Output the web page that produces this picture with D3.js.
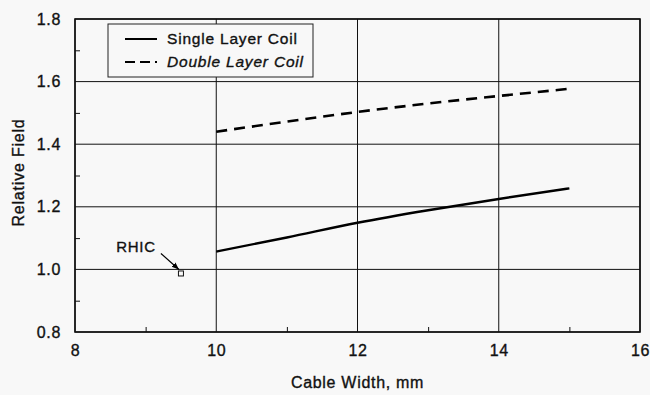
<!DOCTYPE html>
<html>
<head>
<meta charset="utf-8">
<script src="https://cdn.jsdelivr.net/npm/d3@7"></script>
<style>
  body { margin: 0; background: #f8f8f8; }
  text { font-family: "Liberation Sans", Arial, sans-serif; fill: #111; stroke: #111; stroke-width: 0.35px; }
</style>
</head>
<body>
<div id="chart"></div>
<script>
// data
var widths = [10, 11, 12, 13, 14, 15];
var singleLayer = [1.057, 1.102, 1.149, 1.189, 1.225, 1.259];
var doubleLayer = [1.440, 1.472, 1.503, 1.530, 1.554, 1.577];
var rhic = { width: 9.5, field: 0.987, label: "RHIC" };
var xTicks = [8, 10, 12, 14, 16];
var yTicks = [0.8, 1.0, 1.2, 1.4, 1.6, 1.8];
var seriesNames = ["Single Layer Coil", "Double Layer Coil"];

var margin = { top: 19, right: 10, bottom: 63, left: 75 },
    width = 650 - margin.left - margin.right,
    height = 395 - margin.top - margin.bottom;

var svg = d3.select("#chart")
    .append("svg")
    .attr("width", 650)
    .attr("height", 395)
    .style("background", "#f8f8f8");

var plot = svg.append("g")
    .attr("transform", "translate(" + margin.left + "," + margin.top + ")");

var x = d3.scaleLinear().domain([8, 16]).range([0, width]);
var y = d3.scaleLinear().domain([0.8, 1.8]).range([height, 0]);

// grid
plot.append("g")
    .selectAll("line.hgrid")
    .data(yTicks)
    .enter().append("line")
    .attr("x1", 0).attr("x2", width)
    .attr("y1", d => y(d)).attr("y2", d => y(d))
    .attr("stroke", "#111").attr("stroke-width", 1);
plot.append("g")
    .selectAll("line.vgrid")
    .data(xTicks)
    .enter().append("line")
    .attr("x1", d => x(d)).attr("x2", d => x(d))
    .attr("y1", 0).attr("y2", height)
    .attr("stroke", "#111").attr("stroke-width", 1);

// minor ticks pointing inward
plot.append("g")
    .call(d3.axisRight(y).tickValues(d3.range(0.9, 1.8, 0.2)).tickSize(5).tickFormat(""))
    .call(g => g.select(".domain").remove())
    .selectAll("line").attr("stroke", "#111");
plot.append("g")
    .attr("transform", "translate(0," + height + ")")
    .call(d3.axisTop(x).tickValues([9, 11, 13, 15]).tickSize(5).tickFormat(""))
    .call(g => g.select(".domain").remove())
    .selectAll("line").attr("stroke", "#111");

// axes labels
var yAxis = plot.append("g")
    .call(d3.axisLeft(y).tickValues(yTicks).tickSize(0).tickPadding(14).tickFormat(d3.format(".1f")));
yAxis.select(".domain").remove();
yAxis.selectAll("text").style("font-size", "16px").attr("letter-spacing", "0.7px")
    .style("font-family", "'Liberation Sans', Arial, sans-serif").attr("fill", "#111");

var xAxis = plot.append("g")
    .attr("transform", "translate(0," + height + ")")
    .call(d3.axisBottom(x).tickValues(xTicks).tickSize(0).tickPadding(13).tickFormat(d3.format("d")));
xAxis.select(".domain").remove();
xAxis.selectAll("text").style("font-size", "16px").attr("letter-spacing", "0.7px")
    .style("font-family", "'Liberation Sans', Arial, sans-serif").attr("fill", "#111");

// frame
plot.append("rect")
    .attr("width", width).attr("height", height)
    .attr("fill", "none").attr("stroke", "#111").attr("stroke-width", 1.6);

// series
var line = d3.line()
    .x((d, i) => x(widths[i]))
    .y(d => y(d))
    .curve(d3.curveMonotoneX);

plot.append("path")
    .datum(singleLayer)
    .attr("d", line)
    .attr("fill", "none").attr("stroke", "#000").attr("stroke-width", 2.4);

plot.append("path")
    .datum(doubleLayer)
    .attr("d", line)
    .attr("fill", "none").attr("stroke", "#000").attr("stroke-width", 2.6)
    .attr("stroke-dasharray", "11,7");

// RHIC point + arrow
svg.append("defs").append("marker")
    .attr("id", "arrow")
    .attr("viewBox", "0 0 10 10")
    .attr("refX", 10).attr("refY", 5)
    .attr("markerWidth", 6).attr("markerHeight", 6)
    .attr("orient", "auto")
    .append("path").attr("d", "M0,1 L10,5 L0,9 Z").attr("fill", "#000");

var rx = x(rhic.width), ry = y(rhic.field);
plot.append("rect")
    .attr("x", rx - 2.5).attr("y", ry - 2.5)
    .attr("width", 5).attr("height", 5)
    .attr("fill", "#f8f8f8").attr("stroke", "#111").attr("stroke-width", 1);
plot.append("line")
    .attr("x1", rx - 20).attr("y1", ry - 20)
    .attr("x2", rx - 2).attr("y2", ry - 4)
    .attr("stroke", "#000").attr("stroke-width", 1.2)
    .attr("marker-end", "url(#arrow)");
plot.append("text")
    .attr("x", rx - 45).attr("y", ry - 21)
    .attr("text-anchor", "middle")
    .style("font-size", "15px").attr("letter-spacing", "0.7px")
    .text(rhic.label);

// legend
var legend = plot.append("g").attr("transform", "translate(33,5)");
legend.append("rect")
    .attr("width", 205).attr("height", 53)
    .attr("fill", "#f8f8f8").attr("stroke", "#222").attr("stroke-width", 1);
seriesNames.forEach(function(name, i) {
    var ly = 15 + i * 23;
    legend.append("line")
        .attr("x1", 17).attr("x2", 49)
        .attr("y1", ly).attr("y2", ly)
        .attr("stroke", "#000").attr("stroke-width", 2)
        .attr("stroke-dasharray", i == 1 ? "10,5" : null);
    legend.append("text")
        .attr("x", 59).attr("y", ly + 5)
        .style("font-size", "15.5px").attr("letter-spacing", "0.8px")
        .style("font-style", i == 1 ? "italic" : "normal")
        .text(name);
});

// axis titles
svg.append("text")
    .attr("x", margin.left + x(12)).attr("y", 388)
    .attr("text-anchor", "middle")
    .style("font-size", "16px").attr("letter-spacing", "0.7px")
    .text("Cable Width, mm");
svg.append("text")
    .attr("transform", "translate(24," + (margin.top + height / 2 - 3) + ") rotate(-90)")
    .attr("text-anchor", "middle")
    .style("font-size", "16px").attr("letter-spacing", "0.8px")
    .text("Relative Field");
</script>
</body>
</html>
